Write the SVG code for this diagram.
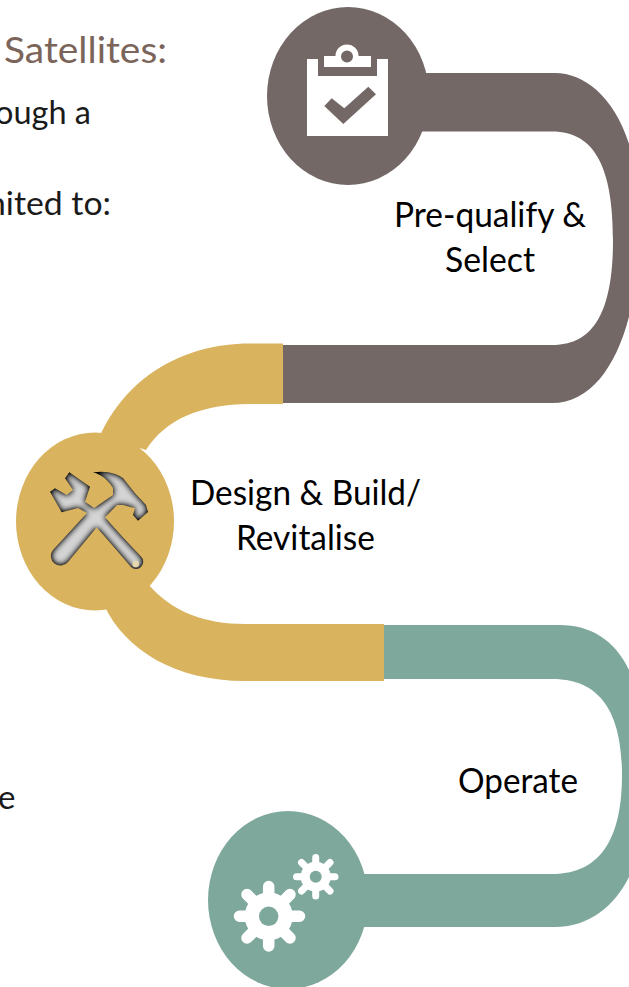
<svg xmlns="http://www.w3.org/2000/svg" width="629" height="987" viewBox="0 0 629 987">
<style>
text{font-family:Lato,"Open Sans","Liberation Sans",sans-serif;fill:#000}
.lb{font-size:34px;text-anchor:middle}
.bd{font-size:33px;fill:#1a1a1a}
.gy{fill:#736866}.gd{fill:#d9b35e}.tl{fill:#7fa89d}
.w{fill:#fff}
.tooth{stroke:#fff;stroke-linecap:round;fill:none}
</style>
<defs>
<filter id="bevel" x="-10%" y="-10%" width="120%" height="120%" color-interpolation-filters="sRGB">
<feGaussianBlur in="SourceAlpha" stdDeviation="3" result="b"/>
<feColorMatrix in="b" type="matrix" values="0 0 0 1.15 -0.32  0 0 0 1.15 -0.32  0 0 0 1.15 -0.32  0 0 0 0 1" result="c"/>
<feComposite in="c" in2="SourceAlpha" operator="in"/>
</filter>
</defs>
<rect width="629" height="987" fill="#fff"/>
<g id="connectors">
<path class="gy" d="M400 73H555C596 73 640 120 640 222C640 320 610 403 552 403H283V345H552C590 345 613 318 613 240C613 170 596 131.500 552 131.500H400Z"/>
<path class="gd" d="M283 343.500H250C180 343.500 125 380 100 436L146 450C165 420 200 404 250 404H283Z"/>
<path class="gd" d="M104 605C125 650 175 681 245 681H384V624H245C205 624 172 612 148 584Z"/>
<path class="tl" d="M384 625H560C590 625 615 640 629 670C637 690 642 730 642 775C642 820 637 860 629 877C615 905 590 927 555 927H340V874H552C592 874 622 850 622 775C622 705 595 679 552 679H384Z"/>
</g>
<g id="node-prequalify">
<ellipse class="gy" cx="348" cy="96" rx="81" ry="89"/>
<path class="w" d="M307 59H318V76H377V59H388V136H307Z"/>
<path class="w" fill-rule="evenodd" d="M324 56H335.500A11.500 11.500 0 0 1 358.500 56H371V67H324ZM347 50.500A6 6 0 1 0 347 62.500A6 6 0 1 0 347 50.500Z"/>
<polygon class="gy" points="324.300,106 331.700,98.300 344.300,108.300 368.300,86.700 376,94.300 343.300,124"/>
</g>
<g id="node-design">
<ellipse class="gd" cx="95" cy="521.500" rx="79" ry="89"/>
<g filter="url(#bevel)" fill="#888">
<path d="M69.300 472.300L90 486.700L85 501.700L97 510L141 556.500A7 7 0 0 1 131 567L97 527L68 562A7 7 0 0 1 53 550L87 513L78 508L61.700 512.300L50 491.700L55 488.300L66.700 495L73 490L65 478.300Z"/>
<path d="M93 472.300C107 470 118 474 123 478L135 493.300L146 505L148 512L138 520.700L133 515L135 508.300L123 505L117 505L105 517.300L97 527L87 513L113 495L113 488C108 480 102 475 93 472.300Z"/>
<path d="M97 518L135 561" stroke="#888" stroke-width="13" stroke-linecap="round"/>
</g>
<circle cx="135.700" cy="564" r="3.300" fill="#e6d7ac"/>
</g>
<g id="node-operate">
<ellipse class="tl" cx="288" cy="900" rx="80" ry="89"/>
<g>
<g class="tooth" stroke-width="11.500">
<path d="M268.700 916.300V886.500M268.700 916.300H299.500M268.700 916.300V946M268.700 916.300H239.500M268.700 916.300L247 894.500M268.700 916.300L290 894.500M268.700 916.300L290 938M268.700 916.300L247 938"/>
</g>
<circle class="w" cx="268.700" cy="916.300" r="24"/>
<circle class="tl" cx="268.700" cy="916.300" r="9.700"/>
</g>
<g>
<g class="tooth" stroke-width="7">
<path d="M315.700 876.700V857.500M315.700 876.700H335M315.700 876.700V896M315.700 876.700H296.500M315.700 876.700L301.500 862.500M315.700 876.700L330 862.500M315.700 876.700L330 891M315.700 876.700L301.500 891"/>
</g>
<circle class="w" cx="315.700" cy="876.700" r="15"/>
<circle class="tl" cx="315.700" cy="876.700" r="6"/>
</g>
</g>
<g id="labels">
<text class="lb" x="490" y="227" textLength="192" lengthAdjust="spacingAndGlyphs">Pre-qualify &amp;</text>
<text class="lb" x="490" y="272" textLength="90" lengthAdjust="spacingAndGlyphs">Select</text>
<text class="lb" x="305.500" y="505" textLength="231" lengthAdjust="spacingAndGlyphs">Design &amp; Build/</text>
<text class="lb" x="305.500" y="550" textLength="139" lengthAdjust="spacingAndGlyphs">Revitalise</text>
<text class="lb" x="518" y="793" textLength="120" lengthAdjust="spacingAndGlyphs">Operate</text>
</g>
<g id="page-text">
<text x="4" y="63" font-size="37" textLength="163" lengthAdjust="spacingAndGlyphs" style="fill:#7b6459">Satellites:</text>
<text class="bd" x="-5" y="124" textLength="96" lengthAdjust="spacingAndGlyphs">ough a</text>
<text class="bd" x="-13" y="215" textLength="124" lengthAdjust="spacingAndGlyphs">nited to:</text>
<text class="bd" x="-2" y="809">e</text>
</g>
</svg>
